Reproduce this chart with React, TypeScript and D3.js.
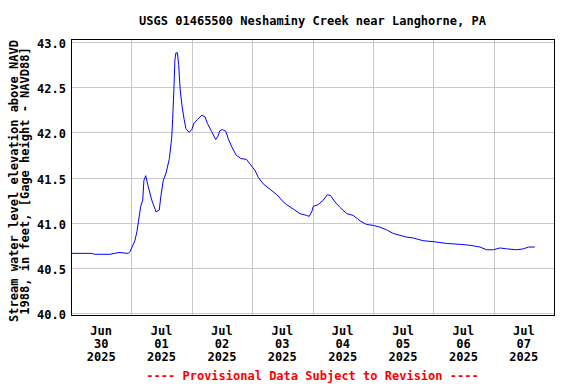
import React from 'react';
import { scaleLinear, line, range } from 'd3';

const title = 'USGS 01465500 Neshaminy Creek near Langhorne, PA';
const yTitle1 = 'Stream water level elevation above NAVD';
const yTitle2 = '1988, in feet, [Gage height - NAVD88]';
const note = '---- Provisional Data Subject to Revision ----';

// hours since Jun 30 2025 00:00
const hours = [0, 8, 9.5, 15.5, 19.1, 22.7, 23.5, 24.1, 25.4, 26.2, 26.8, 27.7, 28.5, 29.0, 29.7, 30.7, 32.1, 33.8, 35.1, 35.7,
  36.7, 37.8, 39.1, 40.0, 40.4, 40.9, 41.3, 41.7, 42.3, 42.8, 43.4, 44.2, 45.0, 45.7, 47.0, 48.0, 48.9, 50.2, 52.0, 53.3,
  54.2, 55.9, 57.5, 58.3, 59.2, 60.3, 61.6, 62.5, 63.9, 65.6, 67.5, 69.8, 71.4, 73.1, 74.5, 76.4, 79.1, 81.8, 84.4, 85.7,
  88.4, 91.0, 93.7, 94.7, 95.7, 96.3, 98.3, 100.3, 101.9, 103.2, 104.9, 106.9, 109.6, 112.2, 114.9, 117.5, 120.2, 122.8, 125.5, 128.1,
  130.8, 133.4, 136.1, 140.0, 144.0, 149.3, 154.6, 158.6, 162.6, 165.2, 167.9, 170.5, 173.2, 177.2, 179.8, 181.8, 184.4];
const stage = [40.66, 40.66, 40.65, 40.65, 40.67, 40.66, 40.68, 40.72, 40.80, 40.90, 41.01, 41.18, 41.25, 41.47, 41.52, 41.40, 41.25, 41.12, 41.14, 41.29,
  41.47, 41.55, 41.71, 41.93, 42.14, 42.47, 42.80, 42.88, 42.88, 42.75, 42.47, 42.28, 42.14, 42.04, 42.00, 42.03, 42.10, 42.14, 42.19, 42.17,
  42.10, 42.01, 41.92, 41.95, 42.02, 42.03, 42.01, 41.93, 41.84, 41.75, 41.71, 41.70, 41.64, 41.58, 41.50, 41.43, 41.37, 41.31, 41.23, 41.20,
  41.15, 41.10, 41.08, 41.07, 41.12, 41.18, 41.20, 41.25, 41.31, 41.30, 41.23, 41.17, 41.10, 41.08, 41.02, 40.98, 40.97, 40.95, 40.92, 40.88,
  40.86, 40.84, 40.83, 40.80, 40.79, 40.77, 40.76, 40.75, 40.73, 40.70, 40.70, 40.72, 40.71, 40.70, 40.71, 40.73, 40.73];

const yTicks = [40.0, 40.5, 41.0, 41.5, 42.0, 42.5, 43.0];
const dayMonths = ['Jun', 'Jul', 'Jul', 'Jul', 'Jul', 'Jul', 'Jul', 'Jul'];
const dayNums = ['30', '01', '02', '03', '04', '05', '06', '07'];
const dayYears = ['2025', '2025', '2025', '2025', '2025', '2025', '2025', '2025'];

const width = 576;
const height = 384;
const left = 71, right = 554, top = 39, bottom = 315;
const font = '"DejaVu Sans Mono", monospace';

export default function App() {
  const x = scaleLinear().domain([0, 192]).range([left, right]);
  const y = scaleLinear().domain([40, 43]).range([313, 42]);
  const path = line<number>().x((d, i) => x(hours[i])).y(d => y(d))(stage);
  const gridDays = range(1, 8);
  const cx = (left + right) / 2;

  return (
    <svg width={width} height={height} style={{ position: 'absolute', left: 0, top: 0, background: '#fff' }}
      fontFamily={font} fontWeight="bold" fontSize={12}>
      <rect x={0} y={0} width={width} height={height} fill="#fff" />
      <text x={cx} y={24.5} textAnchor="middle">{title}</text>
      {yTicks.map(t => (
        <g key={t}>
          <line x1={left} x2={right} y1={Math.round(y(t)) + 0.5} y2={Math.round(y(t)) + 0.5} stroke="#c8c8c8" />
          <text x={66} y={y(t) + 6} textAnchor="end">{t.toFixed(1)}</text>
        </g>
      ))}
      {gridDays.map(d => (
        <line key={d} x1={Math.round(x(d * 24)) + 0.5} x2={Math.round(x(d * 24)) + 0.5} y1={top} y2={bottom} stroke="#c8c8c8" />
      ))}
      {dayNums.map((n, i) => {
        const px = x(i * 24 + 12);
        return (
          <g key={i}>
            <text x={px} y={334.5} textAnchor="middle">{dayMonths[i]}</text>
            <text x={px} y={347.5} textAnchor="middle">{n}</text>
            <text x={px} y={360.5} textAnchor="middle">{dayYears[i]}</text>
          </g>
        );
      })}
      <path d={path || ''} fill="none" stroke="#0000ff" strokeWidth={1} />
      <rect x={left + 0.5} y={top + 0.5} width={right - left} height={bottom - top} fill="none" stroke="#000" />
      <g transform="translate(18,181) rotate(-90)">
        <text textAnchor="middle">{yTitle1}</text>
      </g>
      <g transform="translate(29,181) rotate(-90)">
        <text textAnchor="middle">{yTitle2}</text>
      </g>
      <text x={cx} y={379.5} textAnchor="middle" fill="#ff0000">{note}</text>
    </svg>
  );
}
